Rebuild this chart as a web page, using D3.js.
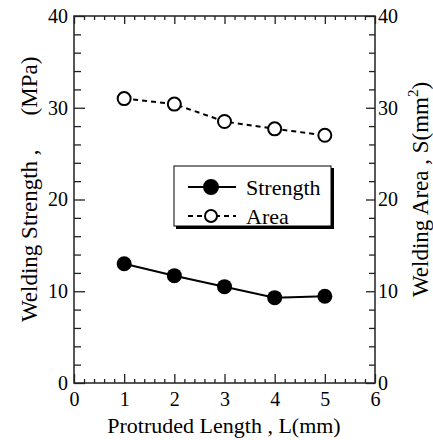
<!DOCTYPE html>
<html>
<head>
<meta charset="utf-8">
<script src="https://cdn.jsdelivr.net/npm/d3@7"></script>
<style>
  body { margin: 0; background: #fff; }
  svg { display: block; font-family: "Liberation Serif", "Times New Roman", serif; }
</style>
</head>
<body>
<svg width="433" height="440"></svg>
<script>
// data
var lengths = [1, 2, 3, 4, 5];
var strength = [13.0, 11.7, 10.5, 9.3, 9.45];
var area = [31.0, 30.4, 28.5, 27.7, 27.0];
var xTicks = [0, 1, 2, 3, 4, 5, 6];
var yTicks = [0, 10, 20, 30, 40];
var legendNames = ["Strength", "Area"];

var svg = d3.select("svg");
var pLeft = 74, pRight = 375, pTop = 16, pBottom = 383;

//scale
var x = d3.scaleLinear().domain([0, 6]).range([pLeft, pRight]);
var y = d3.scaleLinear().domain([0, 40]).range([pBottom, pTop]);

var axisColor = "#222";

function styleAxis(g, fs) {
  g.select(".domain").remove();
  g.selectAll("line").attr("stroke", axisColor).attr("stroke-width", 1.3);
  g.selectAll("text").attr("font-size", fs).attr("fill", "#000")
    .attr("font-family", "Liberation Serif, Times New Roman, serif");
}

// minor ticks
var xMinor = d3.range(0, 6.01, 0.2).filter(function(v){ return Math.abs(v - Math.round(v)) > 0.01; });
var yMinor = d3.range(0, 40.1, 2).filter(function(v){ return v % 10 != 0; });

svg.append("g").attr("transform", "translate(0," + pBottom + ")")
  .call(d3.axisBottom(x).tickValues(xMinor).tickSize(-4).tickFormat(""))
  .call(styleAxis, 20);
svg.append("g").attr("transform", "translate(0," + pTop + ")")
  .call(d3.axisTop(x).tickValues(xMinor).tickSize(-4).tickFormat(""))
  .call(styleAxis, 20);
svg.append("g").attr("transform", "translate(" + pLeft + ",0)")
  .call(d3.axisLeft(y).tickValues(yMinor).tickSize(-7).tickFormat(""))
  .call(styleAxis, 20);
svg.append("g").attr("transform", "translate(" + pRight + ",0)")
  .call(d3.axisRight(y).tickValues(yMinor).tickSize(-6).tickFormat(""))
  .call(styleAxis, 20);

// major ticks
svg.append("g").attr("transform", "translate(0," + pBottom + ")")
  .call(d3.axisBottom(x).tickValues(xTicks).tickSize(-9).tickPadding(9).tickFormat(d3.format("d")))
  .call(styleAxis, 20);
svg.append("g").attr("transform", "translate(0," + pTop + ")")
  .call(d3.axisTop(x).tickValues(xTicks).tickSize(-8).tickFormat(""))
  .call(styleAxis, 20);
svg.append("g").attr("transform", "translate(" + pLeft + ",0)")
  .call(d3.axisLeft(y).tickValues(yTicks).tickSize(-11).tickPadding(6).tickFormat(d3.format("d")))
  .call(styleAxis, 20);
svg.append("g").attr("transform", "translate(" + pRight + ",0)")
  .call(d3.axisRight(y).tickValues(yTicks).tickSize(-9).tickPadding(3).tickFormat(d3.format("d")))
  .call(styleAxis, 20);

// frame
svg.append("rect")
  .attr("x", pLeft).attr("y", pTop)
  .attr("width", pRight - pLeft).attr("height", pBottom - pTop)
  .attr("fill", "none").attr("stroke", axisColor).attr("stroke-width", 1.5);

// lines
var line = d3.line()
  .x(function(d){ return x(d[0]); })
  .y(function(d){ return y(d[1]); });

var sData = lengths.map(function(l, i){ return [l, strength[i]]; });
var aData = lengths.map(function(l, i){ return [l, area[i]]; });

svg.append("path").datum(sData)
  .attr("d", line).attr("fill", "none").attr("stroke", "#000").attr("stroke-width", 2);
svg.append("path").datum(aData)
  .attr("d", line).attr("fill", "none").attr("stroke", "#000").attr("stroke-width", 2)
  .attr("stroke-dasharray", "5,4");

svg.append("g").selectAll("circle").data(sData).enter().append("circle")
  .attr("cx", function(d){ return x(d[0]); })
  .attr("cy", function(d){ return y(d[1]); })
  .attr("r", 7.5).attr("fill", "#000");
svg.append("g").selectAll("circle").data(aData).enter().append("circle")
  .attr("cx", function(d){ return x(d[0]); })
  .attr("cy", function(d){ return y(d[1]); })
  .attr("r", 6.5).attr("fill", "#fff").attr("stroke", "#000").attr("stroke-width", 2);

// legend
var lg = svg.append("g");
lg.append("rect").attr("x", 176).attr("y", 168).attr("width", 158).attr("height", 61).attr("fill", "#000");
lg.append("rect").attr("x", 174).attr("y", 166).attr("width", 157).attr("height", 60)
  .attr("fill", "#fff").attr("stroke", "#000").attr("stroke-width", 1);
var rows = lg.selectAll(".row").data(legendNames).enter().append("g")
  .attr("class", "row")
  .attr("transform", function(d, i){ return "translate(0," + (187 + i * 29) + ")"; });
rows.append("line").attr("x1", 188).attr("x2", 236).attr("y1", 0).attr("y2", 0)
  .attr("stroke", "#000").attr("stroke-width", 2)
  .attr("stroke-dasharray", function(d, i){ return i ? "5,4" : null; });
rows.append("circle").attr("cx", 211).attr("cy", 0)
  .attr("r", function(d, i){ return i ? 6 : 7; })
  .attr("fill", function(d, i){ return i ? "#fff" : "#000"; })
  .attr("stroke", "#000").attr("stroke-width", 2);
rows.append("text").attr("x", 246).attr("y", 7.5).attr("font-size", 22)
  .text(function(d){ return d; });

// titles
svg.append("text").attr("x", 224).attr("y", 433).attr("text-anchor", "middle")
  .attr("font-size", 22).text("Protruded Length , L(mm)");

var lt = svg.append("text").attr("transform", "translate(37,322) rotate(-90)")
  .attr("font-size", 23);
lt.append("tspan").text("Welding Strength ,");
lt.append("tspan").attr("dx", 34).text("(MPa)");

var rt = svg.append("text").attr("transform", "translate(428,297) rotate(-90)")
  .attr("font-size", 23);
rt.append("tspan").text("Welding Area , S(mm");
rt.append("tspan").attr("font-size", 15).attr("dy", -10).text("2");
rt.append("tspan").attr("dy", 10).text(")");
</script>
</body>
</html>
